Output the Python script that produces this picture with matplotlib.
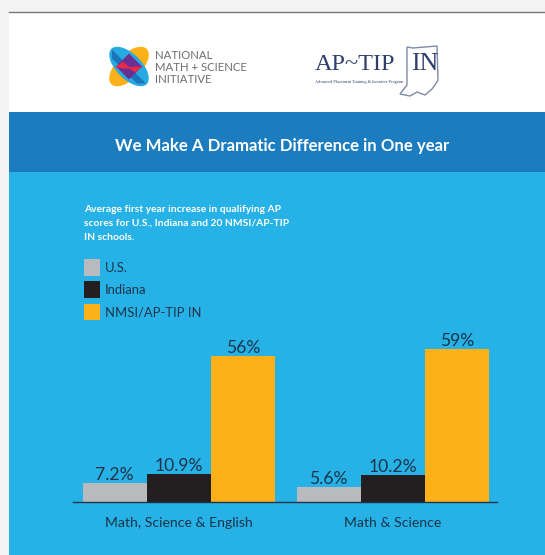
import matplotlib
matplotlib.use("Agg")
import matplotlib.pyplot as plt
from matplotlib.patches import Rectangle, Ellipse, Polygon

plt.rcParams['font.family'] = ['Lato', 'DejaVu Sans']

categories = ["Math, Science & English", "Math & Science"]
series_names = ["U.S.", "Indiana", "NMSI/AP-TIP IN"]
us = [7.2, 5.6]
indiana = [10.9, 10.2]
nmsi = [56, 59]
value_labels = [["7.2%", "5.6%"], ["10.9%", "10.2%"], ["56%", "59%"]]

title = "We Make A Dramatic Difference in One year"
intro = ["Average first year increase in qualifying AP",
		 "scores for U.S., Indiana and 20 NMSI/AP-TIP",
		 "IN schools."]
nmsi_lines = ["NATIONAL", "MATH + SCIENCE", "INITIATIVE"]

W, H = 545, 555
SKY = "#26b1e7"
DARK = "#1d3448"
bar_colors = ["#b9babd", "#231f20", "#fdb018"]

fig = plt.figure(figsize=(W / 100, H / 100), dpi=100, facecolor="#f3f3f3")

# page background, in pixels
bg = fig.add_axes([0, 0, 1, 1])
bg.set_xlim(0, W)
bg.set_ylim(H, 0)
bg.axis("off")
bg.add_patch(Rectangle((9, 12), W - 9, H - 12, fc="white", ec="none"))
bg.plot([9, W], [11.5, 11.5], color="#777777", lw=1)
bg.add_patch(Rectangle((9, 112), W - 9, 60, fc="#1b7dbf", ec="none"))
bg.add_patch(Rectangle((9, 172), W - 9, H - 172, fc=SKY, ec="none"))

# NMSI logo
cx, cy = 129, 66.5
bg.add_patch(Ellipse((cx, cy), 50, 25, angle=-45, fc="#fdb018", ec="none"))
bg.add_patch(Ellipse((cx, cy), 50, 25, angle=45, fc="#27aae1", ec="none"))
bg.add_patch(Polygon([(cx - 17, cy - 17), (cx + 17, cy + 17), (cx + 8, cy + 17), (cx - 17, cy - 8)],
					 fc="#1b75bb", ec="none"))
bg.add_patch(Polygon([(cx - 13, cy), (cx, cy - 13), (cx + 13, cy), (cx, cy + 13)], fc="#6b2f91", ec="none"))
bg.add_patch(Polygon([(cx - 14, cy + 1), (cx - 6, cy - 5), (cx + 2, cy + 2), (cx - 5, cy + 2)], fc="#e8274b", ec="none"))
bg.add_patch(Polygon([(cx + 14, cy), (cx + 6, cy + 6), (cx - 1, cy + 1), (cx + 6, cy)], fc="#e8274b", ec="none"))
for y, line in zip([55.5, 67.5, 79.5], nmsi_lines):
	bg.text(155, y, line, color="#6d6e71", fontsize=8.2, va="center", ha="left")

# AP-TIP IN logo
NAVY = "#2e3f6e"
bg.text(315, 64, "AP~TIP", family="Liberation Serif", color=NAVY, fontsize=17.5, va="center", ha="left")
bg.text(411, 64, "IN", family="Liberation Serif", color=NAVY, fontsize=18.5, va="center", ha="left")
bg.text(315, 81.5, "Advanced Placement Training & Incentive Program", family="Liberation Serif",
		color=NAVY, fontsize=3.1, va="center", ha="left")
state = [(407, 47), (413, 48), (437, 46), (438, 80), (435, 85), (432, 89), (425, 95), (417, 92),
		 (410, 96), (400, 94), (407, 85)]
bg.add_patch(Polygon(state, closed=True, fc="none", ec="#7d8aa8", lw=1))

bg.text(282, 145.5, title, color="white", fontsize=12.1, fontweight="bold", va="center", ha="center")
for y, line in zip([209, 223, 237], intro):
	bg.text(84, y, line, color="white", fontsize=7.4, fontweight="bold", va="center", ha="left")

# bars
ax = fig.add_axes([73 / W, 1 - 502 / H, (497 - 73) / W, 170 / H], facecolor="none")
x0 = [0, 1]
width = 0.3
bars = []
for i, vals in enumerate([us, indiana, nmsi]):
	xs = [x + (i - 1) * width for x in x0]
	b = ax.bar(xs, vals, width, color=bar_colors[i], label=series_names[i])
	ax.bar_label(b, labels=value_labels[i], padding=0, color=DARK, fontsize=12.6)
	bars.append(b)

ax.set_xlim(-0.495, 1.486)
ax.set_ylim(0, 170 / 2.6)
ax.set_xticks(x0)
ax.set_xticklabels(categories, color=DARK, fontsize=10.1)
ax.tick_params(axis="x", length=0, pad=10.5)
ax.set_yticks([])
for s in ["top", "left", "right"]:
	ax.spines[s].set_visible(False)
ax.spines["bottom"].set_color("#1d3448")
ax.spines["bottom"].set_linewidth(1)

fig.legend(handles=bars, loc="upper left", bbox_to_anchor=(84 / W, 1 - 259 / H),
		   frameon=False, fontsize=9.4, labelcolor=DARK, borderpad=0, borderaxespad=0,
		   handlelength=1.23, handleheight=1.6, handletextpad=0.38, labelspacing=0.42)

fig.savefig("out.png", dpi=100)
